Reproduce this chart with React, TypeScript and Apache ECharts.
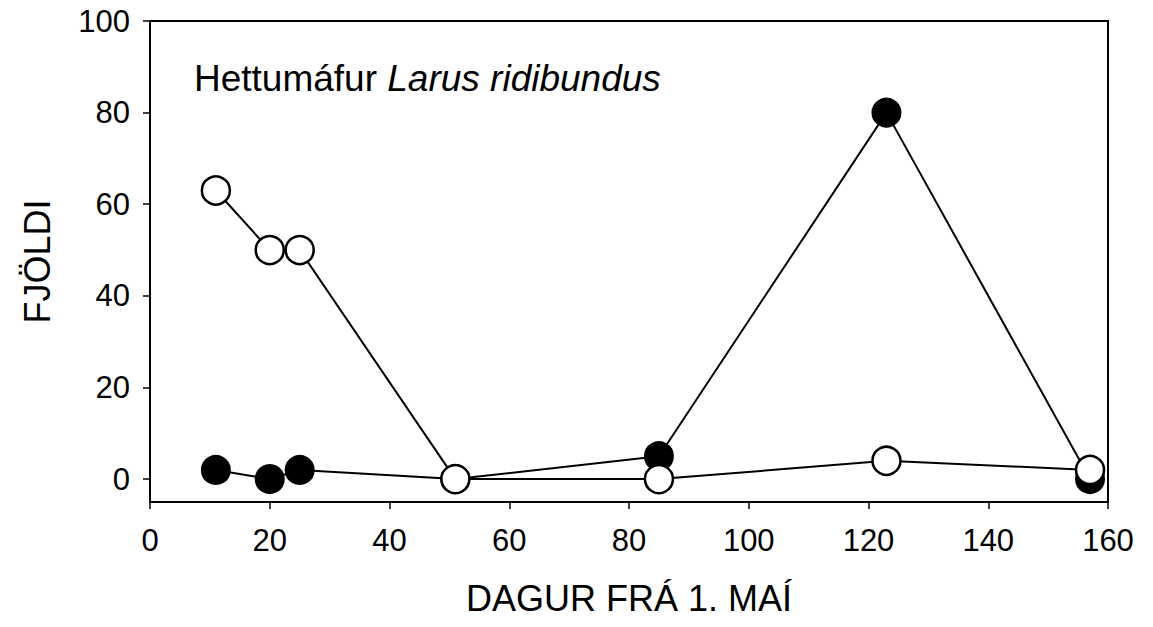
import React, { useEffect, useRef } from "react";
import * as echarts from "echarts";

const daysFilled = [11, 20, 25, 51, 85, 123, 157];
const valuesFilled = [2, 0, 2, 0, 5, 80, 0];
const daysOpen = [11, 20, 25, 51, 85, 123, 157];
const valuesOpen = [63, 50, 50, 0, 0, 4, 2];
const yTicks = [0, 20, 40, 60, 80, 100];
const xTicks = [0, 20, 40, 60, 80, 100, 120, 140, 160];

export default function App() {
  const ref = useRef<HTMLDivElement>(null);
  useEffect(() => {
    if (!ref.current) return;
    const chart = echarts.init(ref.current, null, { renderer: "svg" });
    const font = "'Liberation Sans', Arial, sans-serif";
    chart.setOption({
      animation: false,
      backgroundColor: "#ffffff",
      textStyle: { fontFamily: font, color: "#000" },
      title: {
        text: "Hettumáfur {i|Larus ridibundus}",
        left: 189,
        top: 55,
        textStyle: {
          fontFamily: font,
          fontSize: 37,
          fontWeight: "normal",
          color: "#000",
          rich: { i: { fontStyle: "italic", fontSize: 37, fontFamily: font, color: "#000" } },
        },
      },
      grid: {
        left: 150,
        right: 45,
        top: 21,
        bottom: 125,
        show: true,
        borderColor: "#000",
        borderWidth: 2,
        backgroundColor: "transparent",
      },
      xAxis: {
        type: "value",
        min: 0,
        max: 160,
        interval: 20,
        name: "DAGUR FRÁ 1. MAÍ",
        nameLocation: "middle",
        nameGap: 78,
        nameTextStyle: { fontSize: 36, color: "#000", fontFamily: font },
        axisLine: { show: true, onZero: false, lineStyle: { color: "#000", width: 2 } },
        axisTick: { show: true, length: 7, lineStyle: { color: "#000", width: 1.5 }, customValues: xTicks },
        axisLabel: { fontSize: 31, color: "#000", margin: 23, fontFamily: font, customValues: xTicks },
        splitLine: { show: false },
      },
      yAxis: {
        type: "value",
        min: -5,
        max: 100,
        name: "FJÖLDI",
        nameLocation: "middle",
        nameGap: 95,
        nameTextStyle: { fontSize: 36, color: "#000", fontFamily: font },
        axisLine: { show: true, onZero: false, lineStyle: { color: "#000", width: 2 } },
        axisTick: { show: true, length: 7, lineStyle: { color: "#000", width: 1.5 }, customValues: yTicks },
        axisLabel: { fontSize: 31, color: "#000", margin: 20, fontFamily: font, customValues: yTicks },
        splitLine: { show: false },
      },
      series: [
        {
          type: "line",
          data: daysFilled.map((d, i) => [d, valuesFilled[i]]),
          symbol: "circle",
          symbolSize: 28,
          lineStyle: { color: "#000", width: 2 },
          itemStyle: { color: "#000", borderColor: "#000", borderWidth: 2 },
          z: 2,
        },
        {
          type: "line",
          data: daysOpen.map((d, i) => [d, valuesOpen[i]]),
          symbol: "circle",
          symbolSize: 28,
          lineStyle: { color: "#000", width: 2 },
          itemStyle: { color: "#fff", borderColor: "#000", borderWidth: 2.5 },
          z: 3,
        },
      ],
    });
    return () => chart.dispose();
  }, []);
  return <div ref={ref} style={{ width: 1153, height: 627, position: "absolute", left: 0, top: 0 }} />;
}
